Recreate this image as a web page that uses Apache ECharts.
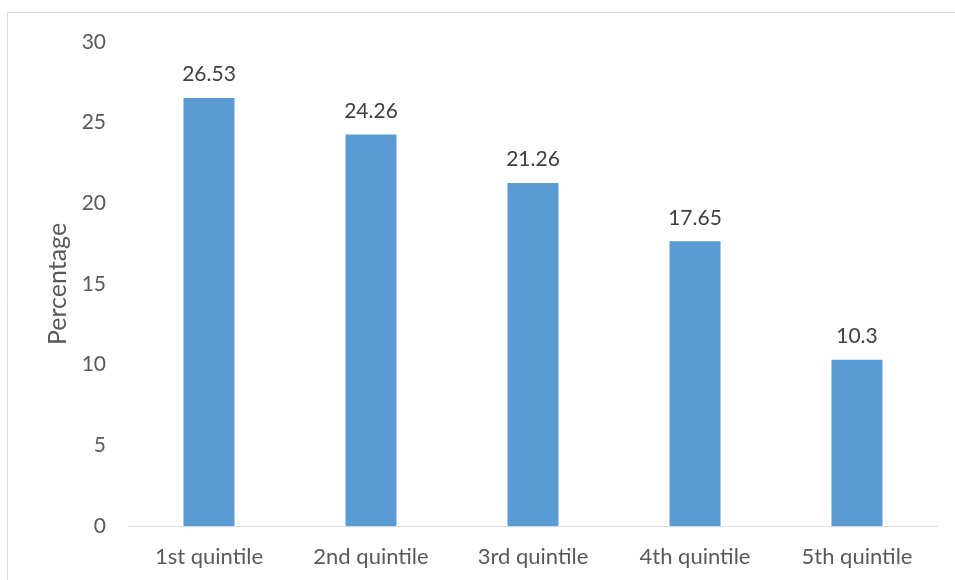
<!DOCTYPE html>
<html><head><meta charset="utf-8">
<script src="https://cdn.jsdelivr.net/npm/echarts@6/dist/echarts.min.js"></script>
<style>html,body{margin:0;padding:0;background:#fff}#c{width:955px;height:580px}</style>
</head><body><div id="c"></div>
<script>
const categories = ['1st quintile','2nd quintile','3rd quintile','4th quintile','5th quintile'];
const values = [26.53, 24.26, 21.26, 17.65, 10.3];
const yTicks = [0, 5, 10, 15, 20, 25, 30];
const FONT = 'Lato';
const chart = echarts.init(document.getElementById('c'), null, {renderer:'canvas'});
chart.setOption({
  animation:false,
  textStyle:{fontFamily:FONT},
  graphic:[{type:'rect',shape:{x:7.5,y:12.5,width:1000,height:1000},style:{fill:'none',stroke:'#d9d9d9',lineWidth:1},silent:true}],
  grid:{left:128,right:17,top:42,bottom:54},
  xAxis:{type:'category',data:categories,
    axisLine:{lineStyle:{color:'#d9d9d9',width:1}},axisTick:{show:false},
    axisLabel:{color:'#595959',fontSize:22,fontFamily:FONT,margin:20}},
  yAxis:{type:'value',min:yTicks[0],max:yTicks[yTicks.length-1],interval:5,
    name:'Percentage',nameLocation:'middle',nameGap:55,nameRotate:90,
    nameTextStyle:{color:'#595959',fontSize:25,fontFamily:FONT},
    axisLine:{show:false},axisTick:{show:false},splitLine:{show:false},
    axisLabel:{color:'#595959',fontSize:21,fontFamily:FONT,margin:22}},
  series:[{type:'bar',data:values,barWidth:51,
    itemStyle:{color:'#5b9bd5'},
    label:{show:true,position:'top',distance:13,color:'#404040',fontSize:21,fontFamily:FONT}}]
});
</script></body></html>
